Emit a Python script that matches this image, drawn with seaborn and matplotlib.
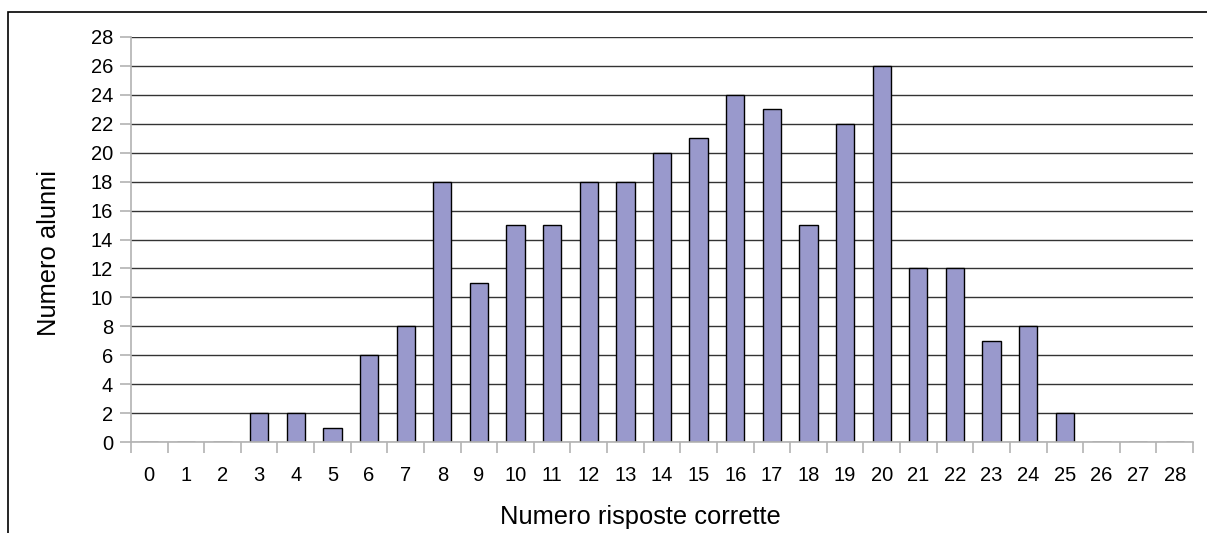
import matplotlib
matplotlib.use("Agg")
import matplotlib.pyplot as plt
import seaborn as sns
import pandas as pd
import numpy as np
from matplotlib.ticker import FixedLocator
from matplotlib.patches import Rectangle

categories = [str(i) for i in range(29)]
values = [0, 0, 0, 2, 2, 1, 6, 8, 18, 11, 15, 15, 18, 18, 20, 21, 24, 23, 15, 22, 26, 12, 12, 7, 8, 2, 0, 0, 0]
y_ticks = list(range(0, 29, 2))

sns.set_theme(style="white")
plt.rcParams['font.family'] = ['Liberation Sans', 'DejaVu Sans']

df = pd.DataFrame({"risposte": categories, "alunni": values})

fig = plt.figure(figsize=(12.07, 5.33), dpi=100)
ax = fig.add_axes([131/1207, 1 - 442/533, (1193 - 131)/1207, (442 - 37)/533])

sns.barplot(data=df, x="risposte", y="alunni", order=categories, color="#9999cc",
            saturation=1, width=0.5, edgecolor="black", linewidth=1.0, ax=ax, zorder=3)

ax.set_xlim(-0.5, 28.5)
ax.set_ylim(0, 28)
ax.set_yticks(y_ticks)
ax.yaxis.grid(True, color="#333333", linewidth=1.0, zorder=0)
ax.xaxis.grid(False)
ax.set_axisbelow(True)

for s in ["top", "right"]:
    ax.spines[s].set_visible(False)
for s in ["left", "bottom"]:
    ax.spines[s].set_color("#b3b3b3")
    ax.spines[s].set_linewidth(1.2)
    ax.spines[s].set_zorder(4)

ax.tick_params(axis="y", which="major", direction="out", length=8, width=1.2, color="#b3b3b3",
               left=True, pad=5, labelsize=14.5, labelcolor="black")
ax.xaxis.set_minor_locator(FixedLocator(np.arange(-0.5, 29, 1.0)))
ax.tick_params(axis="x", which="minor", direction="out", length=8, width=1.2, color="#b3b3b3", bottom=True)
ax.tick_params(axis="x", which="major", length=0, pad=17, labelsize=14.5, labelcolor="black")

ax.set_xlabel("Numero risposte corrette", fontsize=18.4, color="black")
ax.set_ylabel("Numero alunni", fontsize=18.4, color="black")
ax.xaxis.set_label_coords((640 - 131) / 1062, -(517 - 442) / 405)
ax.yaxis.set_label_coords(-(131 - 49) / 1062, (442 - 253) / 405)
ax.xaxis.label.set_va("center")
ax.yaxis.label.set_va("center")

fig.patches.append(Rectangle((8/1207, -0.1), 1.2, 1 - 12/533 + 0.1, transform=fig.transFigure,
                             fill=False, edgecolor="black", linewidth=1.2))

fig.savefig("out.png", dpi=100)
